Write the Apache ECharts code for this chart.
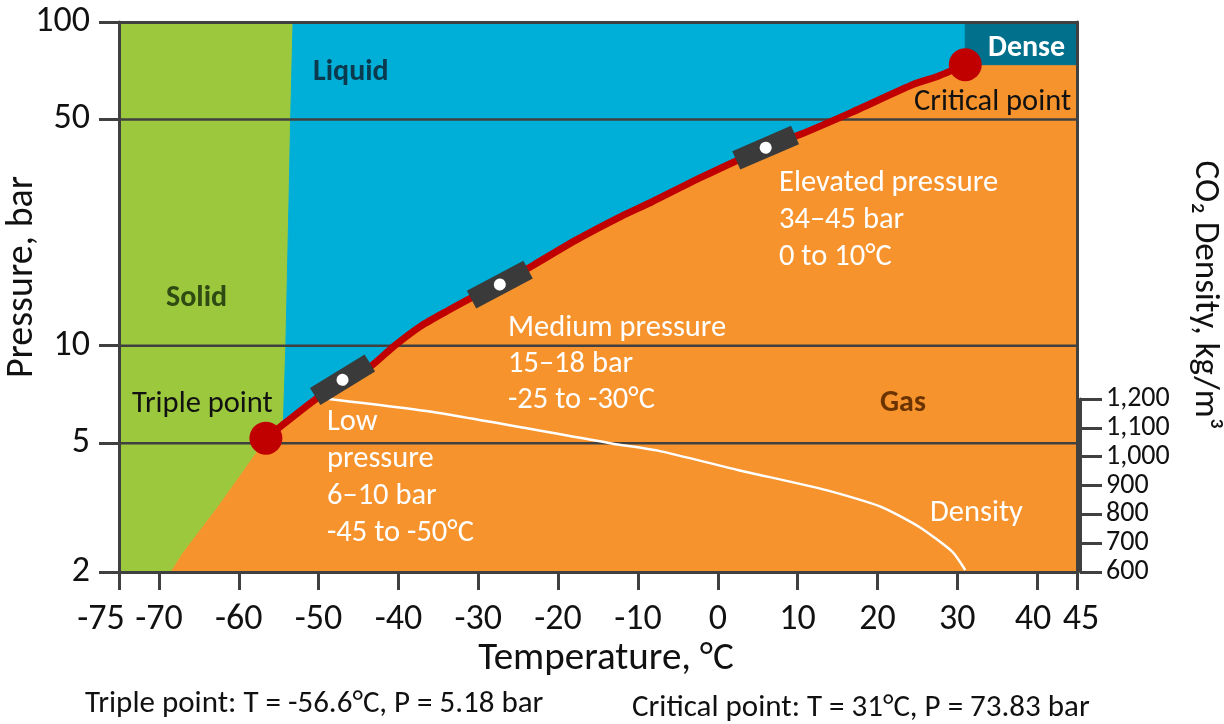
<!DOCTYPE html>
<html>
<head>
<meta charset="utf-8">
<title>CO2 phase diagram</title>
<script src="https://cdn.jsdelivr.net/npm/echarts@6/dist/echarts.min.js"></script>
<style>
  html, body { margin: 0; padding: 0; background: #ffffff; }
  #chart { width: 1224px; height: 724px; }
</style>
</head>
<body>
<div id="chart"></div>
<script>
// ---- Axes ----
const tempMin = -75, tempMax = 45;
const tempTicks = [-75, -70, -60, -50, -40, -30, -20, -10, 0, 10, 20, 30, 40, 45];
const pressMin = 2, pressMax = 100;            // bar, log scale
const pressTicks = [2, 5, 10, 50, 100];
const pressGridLines = [5, 10, 50];
const densMin = 600, densMax = 1200;           // kg/m3

// ---- Key points ----
const triplePoint = [-56.6, 5.18];
const criticalPoint = [31, 73.83];

// Solid–liquid boundary, triple point upward [°C, bar]
const meltingLine = [[-56.6, 5.18], [-54.4, 5.9], [-54.1, 10], [-53.7, 28.3], [-53.5, 50], [-53.2, 100]];
// Solid–gas boundary, bottom edge up to the triple point
const sublimationLine = [[-68.6, 2], [-67.1, 2.29], [-62.7, 3.18], [-56.6, 5.18]];
// Liquid–gas boundary, triple point to critical point
const vaporCurve = [
  [-56.6, 5.18], [-51.0, 6.65], [-47.0, 7.85], [-43.5, 8.63], [-40.6, 9.95],
  [-37.2, 11.5], [-33.9, 12.8], [-30.5, 14.2], [-27.3, 15.45], [-23.0, 17.8],
  [-17.6, 21.3], [-12.1, 25.1], [-8.4, 27.7], [-2.1, 33.1], [6.0, 40.9],
  [10.4, 45.0], [16.7, 52.5], [24.6, 64.3], [27.6, 68.0], [31, 73.83]
];
// Low / medium / elevated pressure operating points on the vapour curve
const operatingPoints = [[-47.0, 7.85], [-27.3, 15.45], [6.0, 40.9]];
// Saturated liquid density [°C, kg/m3]
const densityCurve = [
  [-48.7, 1200], [-35.5, 1154], [-13.3, 1046], [-7.5, 1021], [2.5, 954],
  [13.6, 884], [20.4, 827], [25.2, 757], [29.4, 670], [31.0, 607]
];

// Phase colours
const colGas = '#F6932D', colSolid = '#9CC83D', colLiquid = '#00AFD7', colDense = '#00708C';
const colLine = '#C00000', colAxis = '#404040';
const font = 'Carlito, Lato, sans-serif';

// Pressure is plotted on a log10 value axis
const ly = p => Math.log10(p);
const pt = d => [d[0], ly(d[1])];

const regions = [
  { color: colGas, pts: [...sublimationLine, ...vaporCurve.slice(1), [tempMax, criticalPoint[1]], [tempMax, pressMin]] },
  { color: colSolid, pts: [[tempMin, pressMin], [tempMin, pressMax], ...meltingLine.slice().reverse(), ...sublimationLine.slice(0, -1).reverse()] },
  { color: colLiquid, pts: [...meltingLine, [criticalPoint[0], pressMax], ...vaporCurve.slice().reverse()] },
  { color: colDense, pts: [criticalPoint, [criticalPoint[0], pressMax], [tempMax, pressMax], [tempMax, criticalPoint[1]]] }
];

const chart = echarts.init(document.getElementById('chart'), null, { renderer: 'canvas' });

const axisLineStyle = { color: colAxis, width: 3 };
const tickFont = 36;
const tickRich = {
  l: { fontSize: tickFont, fontFamily: font, color: '#111', padding: [0, 36, 0, 0] },
  ls: { fontSize: tickFont, fontFamily: font, color: '#111', padding: [0, 8, 0, 0] },
  rs: { fontSize: tickFont, fontFamily: font, color: '#111', padding: [0, 0, 0, 8] }
};
// edge labels are nudged apart so they do not collide
function tempLabel(v) {
  if (v === tempMin) return '{l|' + v + '}';
  if (v === 40) return '{ls|' + v + '}';
  if (v === tempMax) return '{rs|' + v + '}';
  return String(v);
}

function txt(text, x, y, opts) {
  return {
    type: 'text', x: x, y: y, z: 50, rotation: opts.rotation || 0,
    style: Object.assign({
      text: text, fontFamily: font, fontSize: 30.5, fill: '#ffffff',
      align: 'left', verticalAlign: 'middle'
    }, opts.style || {})
  };
}

const option = {
  animation: false,
  grid: [
    { left: 119, right: 147, top: 22, bottom: 152 },
    { left: 119, right: 147, top: 399, bottom: 152 }
  ],
  xAxis: [
    {
      gridIndex: 0, type: 'value', min: tempMin, max: tempMax, position: 'bottom', z: 10,
      axisLine: { show: true, onZero: false, lineStyle: axisLineStyle },
      axisTick: { show: true, customValues: tempTicks, length: 18, lineStyle: axisLineStyle },
      axisLabel: {
        customValues: tempTicks, margin: 30, fontSize: tickFont, fontFamily: font, color: '#111',
        formatter: tempLabel, rich: tickRich
      },
      splitLine: { show: false }
    },
    {
      gridIndex: 0, type: 'value', min: tempMin, max: tempMax, position: 'top', z: 10,
      axisLine: { show: true, onZero: false, lineStyle: axisLineStyle },
      axisTick: { show: false }, axisLabel: { show: false }, splitLine: { show: false }
    },
    { gridIndex: 1, type: 'value', min: tempMin, max: tempMax, show: false }
  ],
  yAxis: [
    {
      gridIndex: 0, type: 'value', min: ly(pressMin), max: ly(pressMax), z: 10,
      axisLine: { show: true, onZero: false, lineStyle: axisLineStyle },
      axisTick: { show: true, customValues: pressTicks.map(ly), length: 20, lineStyle: axisLineStyle },
      axisLabel: {
        customValues: pressTicks.map(ly), margin: 29, fontSize: tickFont, fontFamily: font, color: '#111',
        formatter: v => String(Math.round(Math.pow(10, v)))
      },
      splitLine: { show: false }
    },
    {
      gridIndex: 0, type: 'value', min: ly(pressMin), max: ly(pressMax), position: 'right', z: 10,
      axisLine: { show: true, onZero: false, lineStyle: axisLineStyle },
      axisTick: { show: false }, axisLabel: { show: false }, splitLine: { show: false }
    },
    {
      gridIndex: 1, type: 'value', min: densMin, max: densMax, interval: 100, position: 'right', offset: 3, z: 10,
      axisLine: { show: true, onZero: false, lineStyle: axisLineStyle },
      axisTick: { show: true, length: 22, lineStyle: axisLineStyle },
      axisLabel: {
        margin: 26, fontSize: 28, fontFamily: font, color: '#111',
        formatter: v => v.toLocaleString('en-US')
      },
      splitLine: { show: false }
    }
  ],
  series: [
    {
      // phase regions
      type: 'custom', xAxisIndex: 0, yAxisIndex: 0, z: 1, silent: true,
      data: regions.map(r => pt(r.pts[0])),
      renderItem: (params, api) => {
        const r = regions[params.dataIndex];
        return {
          type: 'polygon',
          shape: { points: r.pts.map(d => api.coord(pt(d))) },
          style: { fill: r.color, stroke: r.color, lineWidth: 1 }
        };
      }
    },
    {
      // horizontal pressure gridlines
      type: 'custom', xAxisIndex: 0, yAxisIndex: 0, z: 2, silent: true,
      data: pressGridLines.map(p => [tempMin, ly(p)]),
      renderItem: (params, api) => {
        const a = api.coord([tempMin, api.value(1)]);
        const b = api.coord([tempMax, api.value(1)]);
        return {
          type: 'line',
          shape: { x1: a[0], y1: a[1], x2: b[0], y2: b[1] },
          style: { stroke: colAxis, lineWidth: 2.5 }
        };
      }
    },
    {
      // saturated liquid density
      type: 'line', xAxisIndex: 2, yAxisIndex: 2, z: 3, silent: true,
      data: densityCurve, showSymbol: false, smooth: 0.2,
      lineStyle: { color: '#ffffff', width: 2.5 }
    },
    {
      // vapour pressure curve
      type: 'line', xAxisIndex: 0, yAxisIndex: 0, z: 11, silent: true,
      data: vaporCurve.map(pt), showSymbol: false, smooth: 0.2,
      lineStyle: { color: colLine, width: 7, cap: 'round', join: 'round' }
    },
    {
      // operating point markers
      type: 'custom', xAxisIndex: 0, yAxisIndex: 0, z: 12, silent: true,
      data: operatingPoints.map(pt),
      renderItem: (params, api) => {
        const t = api.value(0);
        const c = api.coord([t, api.value(1)]);
        let j = 1;
        let best = Infinity;
        for (let k = 1; k < vaporCurve.length - 1; k++) {
          const dd = Math.abs(vaporCurve[k][0] - t);
          if (dd < best) { best = dd; j = k; }
        }
        const a = api.coord(pt(vaporCurve[j - 1]));
        const b = api.coord(pt(vaporCurve[j + 1]));
        const ang = Math.atan2(b[1] - a[1], b[0] - a[0]);
        return {
          type: 'group', x: c[0], y: c[1], rotation: -ang,
          children: [
            { type: 'rect', shape: { x: -32, y: -10, width: 64, height: 20 }, style: { fill: '#3A3A3A' } },
            { type: 'circle', shape: { cx: 0, cy: 0, r: 6 }, style: { fill: '#ffffff' } }
          ]
        };
      }
    },
    {
      // triple and critical points
      type: 'scatter', xAxisIndex: 0, yAxisIndex: 0, z: 13, silent: true,
      data: [pt(triplePoint), pt(criticalPoint)],
      symbolSize: 33, itemStyle: { color: colLine, opacity: 1 }
    }
  ],
  graphic: {
    elements: [
      txt('Liquid', 313, 72, { style: { fontWeight: 'bold', fontSize: 30, fill: '#0B3A4E' } }),
      txt('Solid', 166, 298, { style: { fontWeight: 'bold', fontSize: 30, fill: '#2F4A12' } }),
      txt('Gas', 880, 403, { style: { fontWeight: 'bold', fontSize: 30, fill: '#6B3300' } }),
      txt('Dense', 988, 48, { style: { fontWeight: 'bold', fontSize: 30, fill: '#ffffff' } }),
      txt('Triple point', 132, 404, { style: { fill: '#111111' } }),
      txt('Critical point', 914, 102, { style: { fill: '#111111' } }),
      txt('Low\npressure\n6–10 bar\n-45 to -50°C', 327, 403.5, { style: { verticalAlign: 'top', lineHeight: 37 } }),
      txt('Medium pressure\n15–18 bar\n-25 to -30°C', 508, 310, { style: { verticalAlign: 'top', lineHeight: 36 } }),
      txt('Elevated pressure\n34–45 bar\n0 to 10°C', 779, 164.5, { style: { verticalAlign: 'top', lineHeight: 37 } }),
      txt('Density', 930, 513, {}),
      txt('Temperature, °C', 606, 659, { style: { fill: '#111111', fontSize: 39, align: 'center' } }),
      txt('Pressure, bar', 22, 277, { rotation: Math.PI / 2, style: { fill: '#111111', fontSize: 38, align: 'center' } }),
      txt('CO₂ Density, kg/m³', 1205, 295, { rotation: -Math.PI / 2, style: { fill: '#111111', fontSize: 35, align: 'center' } }),
      txt('Triple point: T = -56.6°C, P = 5.18 bar', 85, 704, { style: { fill: '#111111', fontSize: 31 } }),
      txt('Critical point: T = 31°C, P = 73.83 bar', 632, 708, { style: { fill: '#111111', fontSize: 31 } })
    ]
  }
};

chart.setOption(option);
</script>
</body>
</html>
